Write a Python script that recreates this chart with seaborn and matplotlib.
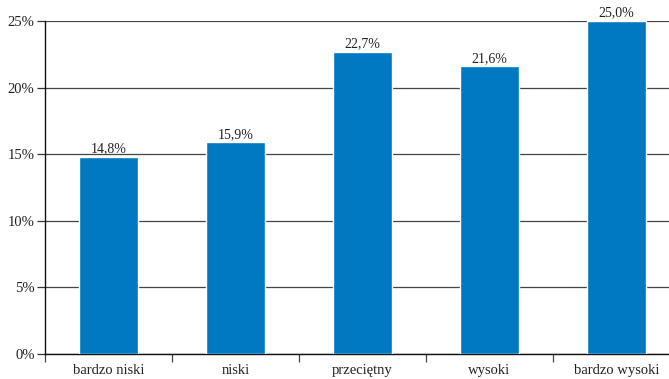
import matplotlib
matplotlib.use("Agg")
import matplotlib.pyplot as plt
import seaborn as sns
import pandas as pd
import numpy as np

categories = ["bardzo niski", "niski", "przeciętny", "wysoki", "bardzo wysoki"]
values = [14.8, 15.9, 22.7, 21.6, 25.0]
value_labels = ["14,8%", "15,9%", "22,7%", "21,6%", "25,0%"]
y_ticks = [0, 5, 10, 15, 20, 25]
y_tick_labels = ["0%", "5%", "10%", "15%", "20%", "25%"]

sns.set_theme(style="white")
plt.rcParams["font.family"] = ["Liberation Serif", "DejaVu Serif"]

df = pd.DataFrame({"kategoria": categories, "udzial": values})

fig = plt.figure(figsize=(6.69, 3.79), dpi=100)
# axes run slightly past the right edge of the canvas
ax = fig.add_axes([45 / 669, 1 - 354 / 379, 635 / 669, 333 / 379])

sns.barplot(data=df, x="kategoria", y="udzial", color="#0079c2",
            saturation=1, width=0.46, ax=ax, zorder=3)

ax.set_ylim(0, 25)
ax.set_xlim(-0.5, len(categories) - 0.5)
ax.set_yticks(y_ticks)
ax.set_yticklabels(y_tick_labels, fontsize=10.5, color="#222222")
ax.yaxis.grid(True, color="#444444", linewidth=0.9, zorder=0)
ax.set_axisbelow(True)

# category labels without ticks; boundary ticks drawn as minor ticks
ax.set_xticks(range(len(categories)))
ax.set_xticklabels(categories, fontsize=10.5, color="#222222")
ax.tick_params(axis="x", which="major", length=0, pad=7, bottom=True)
ax.set_xticks(np.arange(-0.5, len(categories)), minor=True)
ax.tick_params(axis="x", which="minor", length=5.5, width=0.9, color="#444444",
               direction="out", bottom=True)
ax.tick_params(axis="y", which="major", length=5.5, width=0.9, color="#333333",
               pad=2, direction="out", left=True)

ax.set_xlabel("")
ax.set_ylabel("")
for side in ["top", "right"]:
    ax.spines[side].set_visible(False)
for side in ["left", "bottom"]:
    ax.spines[side].set_color("#111111")
    ax.spines[side].set_linewidth(1.0)

for container in ax.containers:
    ax.bar_label(container, labels=value_labels, padding=1, fontsize=10,
                 color="#222222", clip_on=False)

fig.savefig("out.png", dpi=100)
